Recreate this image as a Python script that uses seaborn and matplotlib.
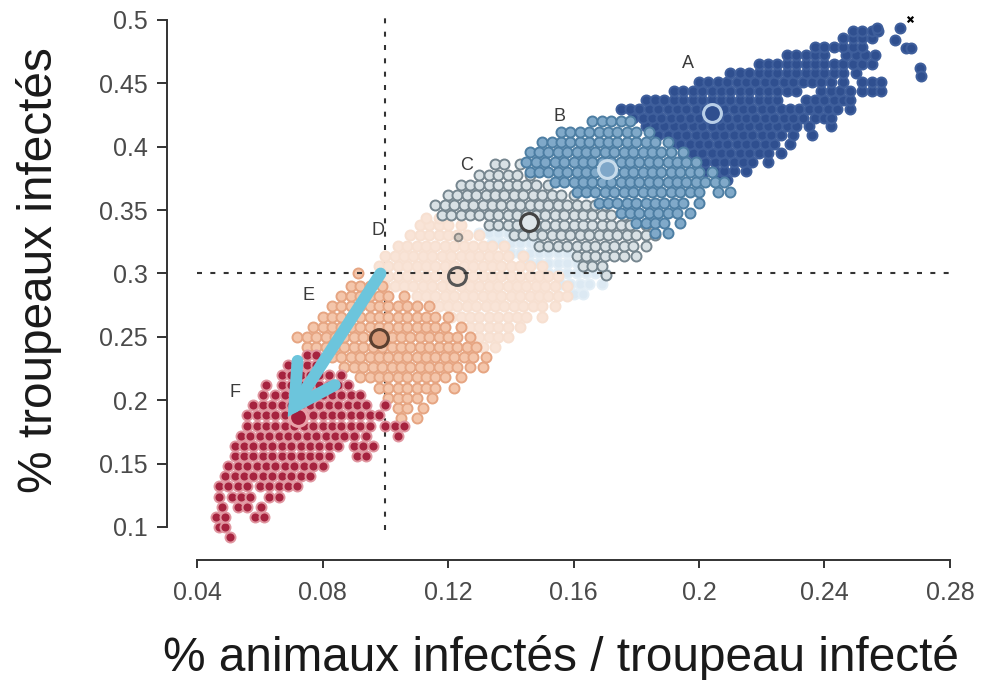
import matplotlib
matplotlib.use("Agg")
import matplotlib.pyplot as plt
import pandas as pd
import seaborn as sns

# points, row by row: {y: [x, ...]}
rows_a = {
    .374: [.206, .209],
    .381: [.202, .205, .208, .211, .215],
    .388: [.199, .202, .205, .208, .211, .214, .217, .222],
    .395: [.195, .198, .201, .204, .207, .210, .213, .216, .219, .222, .226],
    .402: [.191, .194, .197, .200, .203, .206, .209, .212, .215, .218, .221, .224, .229],
    .409: [.187, .190, .193, .196, .199, .202, .205, .208, .211, .214, .217, .220, .223, .226, .230, .236],
    .416: [.183, .186, .189, .192, .195, .198, .201, .204, .207, .210, .213, .216, .219, .222, .225, .228, .231, .235, .242],
    .423: [.179, .182, .185, .188, .191, .194, .197, .200, .203, .206, .209, .212, .215, .218, .221, .224, .227, .230, .233, .237, .240, .242],
    .430: [.175, .178, .181, .184, .187, .190, .193, .196, .199, .202, .205, .208, .211, .214, .217, .220, .223, .226, .229, .232, .235, .238, .241, .244, .248],
    .437: [.183, .186, .189, .192, .195, .198, .201, .204, .207, .210, .213, .216, .219, .222, .225, .234, .237, .240, .243, .246, .248],
    .444: [.192, .195, .198, .201, .204, .207, .210, .213, .216, .219, .222, .225, .228, .231, .239, .242, .245, .248, .252, .255, .258],
    .451: [.200, .203, .206, .209, .212, .215, .218, .221, .224, .227, .230, .233, .236, .239, .242, .246, .252, .255, .258],
    .458: [.210, .213, .216, .219, .222, .225, .228, .231, .234, .237, .240, .243, .246, .250],
    .465: [.219, .222, .225, .228, .231, .234, .237, .240, .243, .246, .249, .252, .255],
    .472: [.228, .231, .234, .237, .240, .247, .250, .253, .256],
    .479: [.237, .240, .243, .246, .249, .252],
    .486: [.246, .249, .252, .255],
    .491: [.249, .252, .255, .257],
    .484: [.2625],
    .478: [.2660, .2675],
    .494: [.2568, .2640],
    .462: [.2705],
    .456: [.2708],
}
rows_b = {
    .332: [.186, .190],
    .340: [.180, .183, .186, .189, .194],
    .348: [.175, .178, .181, .184, .187, .190, .193, .197],
    .356: [.168, .171, .174, .177, .180, .183, .186, .189, .192, .195, .200],
    .364: [.161, .164, .167, .170, .173, .176, .179, .182, .185, .188, .191, .194, .197, .200, .206, .210],
    .372: [.154, .157, .160, .163, .166, .169, .172, .175, .178, .181, .184, .187, .190, .193, .196, .199, .202, .205, .208],
    .380: [.146, .149, .152, .155, .158, .161, .164, .167, .170, .173, .176, .179, .182, .185, .188, .191, .194, .197, .200, .204],
    .388: [.145, .148, .151, .154, .157, .160, .163, .166, .169, .172, .175, .178, .181, .184, .187, .190, .193, .196, .199],
    .396: [.146, .149, .152, .155, .158, .161, .164, .167, .170, .173, .176, .179, .182, .185, .188, .191, .195],
    .404: [.150, .153, .156, .159, .162, .165, .168, .171, .174, .177, .180, .183, .186, .190],
    .412: [.156, .159, .162, .165, .168, .171, .174, .177, .180, .184],
    .420: [.166, .169, .172, .175, .178],
}
rows_c = {
    .299: [.1705],
    .306: [.163, .166, .169],
    .314: [.161, .164, .167, .170, .173, .176, .180],
    .322: [.149, .152, .155, .158, .161, .164, .167, .170, .173, .176, .179, .183],
    .330: [.141, .144, .147, .150, .153, .156, .159, .162, .165, .168, .171, .174, .177, .180, .183, .186],
    .338: [.133, .136, .139, .142, .145, .148, .151, .154, .157, .160, .163, .166, .169, .172, .175, .178, .183],
    .346: [.118, .121, .124, .127, .130, .133, .136, .139, .142, .145, .148, .151, .154, .157, .160, .163, .166, .169, .172, .176],
    .354: [.116, .119, .122, .125, .128, .131, .134, .137, .140, .143, .146, .149, .152, .155, .158, .161, .164, .167, .170],
    .362: [.120, .123, .126, .129, .132, .135, .138, .141, .144, .147, .150, .153, .156, .160],
    .370: [.124, .127, .130, .133, .136, .139, .142, .145, .148, .152],
    .378: [.130, .133, .136, .139, .142, .146],
    .386: [.135, .138, .143],
}
rows_pale = {
    .284: [.160, .163],
    .292: [.156, .159, .162, .165, .169],
    .300: [.152, .155, .158, .161, .164, .167, .170],
    .308: [.146, .149, .152, .155, .158, .161, .164],
    .316: [.140, .143, .146, .149, .152, .155, .158],
    .324: [.134, .137, .140, .143, .146, .148],
    .332: [.130, .133, .136, .139],
}
rows_d = {
    .242: [.131, .135],
    .250: [.127, .130, .133, .136, .139],
    .258: [.124, .127, .130, .133, .136, .139, .143],
    .266: [.121, .124, .127, .130, .133, .136, .139, .142, .145, .150],
    .274: [.117, .120, .123, .126, .129, .132, .135, .138, .141, .144, .147, .150, .154],
    .282: [.110, .113, .116, .119, .122, .125, .128, .131, .134, .137, .140, .143, .146, .149, .152, .155, .158],
    .290: [.100, .103, .106, .109, .112, .115, .118, .121, .124, .127, .130, .133, .136, .139, .142, .145, .148, .151, .154, .158],
    .298: [.098, .101, .104, .107, .110, .113, .116, .119, .122, .125, .128, .131, .134, .137, .140, .143, .146, .149, .152, .155],
    .306: [.098, .101, .104, .107, .110, .113, .116, .119, .122, .125, .128, .131, .134, .137, .140, .143, .146, .150],
    .314: [.100, .103, .106, .109, .112, .115, .118, .121, .124, .127, .130, .133, .136, .139, .144],
    .322: [.104, .107, .110, .113, .116, .119, .122, .125, .128, .131, .134, .138],
    .330: [.108, .111, .114, .117, .120, .123, .126, .130],
    .338: [.111, .114, .117, .120, .124],
    .344: [.113, .117],
}
rows_e = {
    .186: [.105, .110],
    .194: [.104, .107, .112],
    .202: [.101, .104, .107, .110, .115],
    .210: [.098, .101, .104, .107, .110, .113, .116, .122],
    .218: [.092, .095, .098, .101, .104, .107, .110, .113, .116, .119, .124],
    .226: [.087, .090, .093, .096, .099, .102, .105, .108, .111, .114, .117, .120, .123, .127, .131],
    .234: [.083, .086, .089, .092, .095, .098, .101, .104, .107, .110, .113, .116, .119, .122, .125, .128, .132],
    .242: [.075, .078, .081, .084, .087, .090, .093, .096, .099, .102, .105, .108, .111, .114, .117, .120, .123, .126, .129],
    .250: [.072, .075, .078, .081, .084, .087, .090, .093, .096, .099, .102, .105, .108, .111, .114, .117, .120, .123, .127],
    .258: [.077, .080, .083, .086, .089, .092, .095, .098, .101, .104, .107, .110, .113, .116, .119, .124],
    .266: [.080, .083, .086, .089, .092, .095, .098, .101, .104, .107, .110, .113, .116, .120],
    .274: [.083, .086, .089, .092, .095, .098, .101, .104, .107, .110, .114],
    .282: [.086, .089, .092, .095, .098, .101, .106],
    .290: [.089, .092, .095, .099],
    .300: [.0913],
}
rows_f = {
    .092: [.0505],
    .100: [.047, .049],
    .108: [.046, .049, .0585, .0612],
    .116: [.048, .053, .056, .0605],
    .124: [.047, .051, .054, .057, .063, .066],
    .132: [.047, .050, .053, .056, .060, .063, .066, .069, .072],
    .140: [.049, .052, .055, .058, .061, .064, .067, .070, .073, .076],
    .148: [.050, .053, .056, .059, .062, .065, .068, .071, .074, .077, .080],
    .156: [.052, .055, .058, .061, .064, .067, .070, .073, .076, .079, .082, .091, .094],
    .164: [.052, .055, .058, .061, .064, .067, .070, .073, .076, .079, .082, .085, .090, .093, .096],
    .172: [.054, .057, .060, .063, .066, .069, .072, .075, .078, .081, .084, .087, .090, .094, .104],
    .180: [.056, .059, .062, .065, .068, .071, .074, .077, .080, .083, .086, .089, .092, .095, .100, .103, .106],
    .188: [.056, .059, .062, .065, .068, .071, .074, .077, .080, .083, .086, .089, .092, .095, .098],
    .196: [.058, .061, .064, .067, .070, .073, .076, .079, .082, .085, .088, .091, .094, .100],
    .204: [.061, .065, .068, .071, .074, .077, .080, .083, .086, .089, .092],
    .212: [.062, .067, .070, .073, .076, .079, .082, .085, .088],
    .220: [.067, .070, .073, .076, .079, .082, .086],
    .228: [.069, .072, .075, .078],
    .236: [.075, .078],
}

medians_x = [.2042, .1707, .1458, .1229, .0980, .0722]
medians_y = [.4266, .3825, .3406, .2980, .2490, .1868]
median_face = ["#2f4f8f", "#7fa7c9", "#dfe6ea", "#f3dccd", "#d89a78", "#a31f3d"]
median_edge = ["#b9cfe8", "#c8dcec", "#444444", "#555555", "#5b4030", "#e8a0a8"]

letters = ["A", "B", "C", "D", "E", "F"]
letter_x = [.1965, .1555, .1258, .0977, .0755, .0522]
letter_y = [.466, .424, .3856, .3343, .283, .2065]

x_ticks = [.04, .08, .12, .16, .2, .24, .28]
y_ticks = [.1, .15, .2, .25, .3, .35, .4, .45, .5]

# draw order follows the overlaps in the picture
groups = [
    ("A", rows_a, "#2f4f8f", "#3f5f9c"),
    ("pale", rows_pale, "#dce9f3", "#e3eef6"),
    ("D", rows_d, "#f9e4d7", "#f7e0d1"),
    ("E", rows_e, "#f4c6ab", "#e6a582"),
    ("C", rows_c, "#d9e1e5", "#76868f"),
    ("B", rows_b, "#80a9c9", "#4d7ea3"),
    ("F", rows_f, "#a6233f", "#e096a0"),
]

records = [
    {"group": name, "x": x, "y": y}
    for name, rows, _, _ in groups
    for y, xs in rows.items()
    for x in xs
]
df = pd.DataFrame(records)

sns.set_style("ticks")
plt.rcParams["font.family"] = ["Liberation Sans", "DejaVu Sans"]

W, H = 982, 680
fig = plt.figure(figsize=(W / 100, H / 100), dpi=100)
# axes placed so the limits land on the picture's tick positions
y_lim = (.08, .505)
px_per_y = 1267.5
top_px = 527 - (y_lim[1] - .1) * px_per_y
bottom_px = 527 + (.1 - y_lim[0]) * px_per_y
ax = fig.add_axes([197 / W, 1 - bottom_px / H, 753 / W, (bottom_px - top_px) / H])
ax.set_xlim(.04, .28)
ax.set_ylim(*y_lim)

ax.plot([.1, .1], [.0975, .505], color="#333333", lw=1.5, dashes=(2.4, 4), zorder=1)
ax.plot([.04, .28], [.3, .3], color="#333333", lw=1.5, dashes=(2.4, 4), zorder=6)

for i, (name, _, face, edge) in enumerate(groups):
    sns.scatterplot(
        data=df[df["group"] == name], x="x", y="y", color=face, edgecolor=edge,
        s=52, linewidth=1.4, ax=ax, zorder=2 + i * 0.1, legend=False, clip_on=False,
    )

# one stray grey point above group D, and the black cross at the top
ax.scatter([.1232], [.3288], s=30, color="#cfc6bd", edgecolor="#8d8a86", linewidth=1.4, zorder=4)
ax.scatter([.2673], [.5008], s=16, marker="x", color="black", linewidth=1.6, zorder=4, clip_on=False)

for mx, my, face, edge in zip(medians_x, medians_y, median_face, median_edge):
    ax.scatter([mx], [my], s=165, color=face, edgecolor=edge, linewidth=2.2, zorder=5)

for label, lx, ly in zip(letters, letter_x, letter_y):
    ax.text(lx, ly, label, fontsize=13, color="#3a3a3a", ha="center", va="center", zorder=7)

ax.annotate(
    "", xy=(.0689, .1868), xytext=(.0985, .3),
    arrowprops=dict(
        arrowstyle="->,head_length=2.9,head_width=1.6", color="#6cc5dc", lw=8.5,
        shrinkA=0, shrinkB=0, mutation_scale=10, capstyle="round", joinstyle="miter",
    ),
    zorder=8,
)

ax.set_xticks(x_ticks)
ax.set_xticklabels(["0.04", "0.08", "0.12", "0.16", "0.2", "0.24", "0.28"])
ax.set_yticks(y_ticks)
ax.set_yticklabels(["0.1", "0.15", "0.2", "0.25", "0.3", "0.35", "0.4", "0.45", "0.5"])
ax.tick_params(axis="both", labelsize=18, labelcolor="#4a4a4a", color="#333333", width=1.4)
ax.tick_params(axis="x", length=5.8, pad=9.5)
ax.tick_params(axis="y", length=7, pad=7)
for side in ["left", "bottom"]:
    ax.spines[side].set_linewidth(1.4)
    ax.spines[side].set_color("#333333")
sns.despine(ax=ax, offset={"left": 21.6, "bottom": 5.5}, trim=True)

ax.set_xlabel("")
ax.set_ylabel("")
fig.text(561 / W, 1 - 658 / H, "% animaux infectés / troupeau infecté", fontsize=34.4,
         color="#1a1a1a", ha="center", va="center")
fig.text(39 / W, 1 - 270 / H, "% troupeaux infectés", fontsize=34.4, rotation=90,
         color="#1a1a1a", ha="center", va="center")

fig.savefig("out.png", dpi=100)
